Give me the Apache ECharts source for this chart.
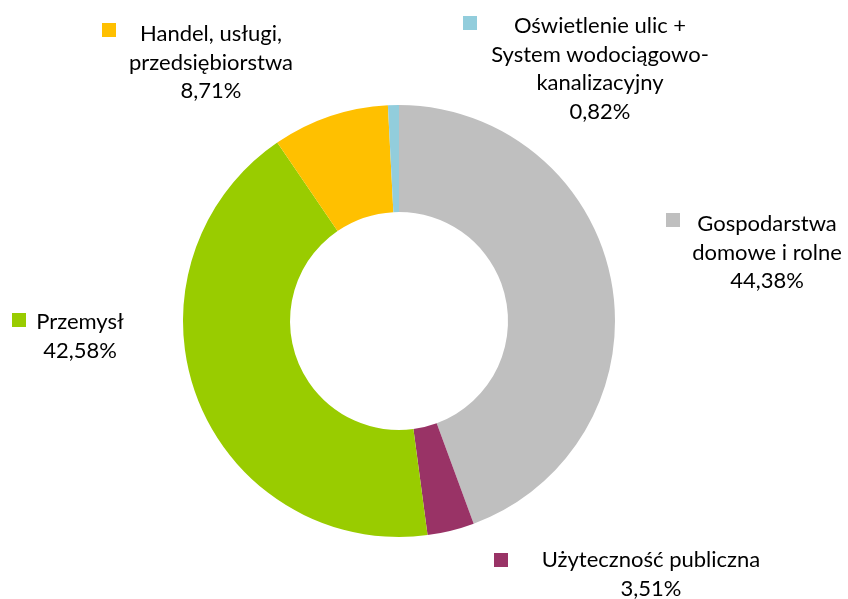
<!DOCTYPE html>
<html>
<head>
<meta charset="utf-8">
<script src="https://cdn.jsdelivr.net/npm/echarts@6/dist/echarts.min.js"></script>
<style>
  html, body { margin: 0; padding: 0; background: #fff; }
  #chart { width: 848px; height: 599px; }
</style>
</head>
<body>
<div id="chart"></div>
<script>
// dane wykresu (kolejność zgodnie z ruchem wskazówek zegara od góry)
const categories = [
  'Gospodarstwa\ndomowe i rolne',
  'Użyteczność publiczna',
  'Przemysł',
  'Handel, usługi,\nprzedsiębiorstwa',
  'Oświetlenie ulic +\nSystem wodociągowo-\nkanalizacyjny'
];
const shares = [44.38, 3.51, 42.58, 8.71, 0.82];
const colors = ['#BFBFBF', '#993366', '#99CC00', '#FFC000', '#92CDDC'];

// położenie etykiet: środek tekstu (x) i górna krawędź bloku (y)
const labelPos = [[767, 210], [651, 546], [80, 308], [211, 20], [600, 12]];
// położenie kwadracików legendy (lewy górny róg)
const keyPos = [[666, 213], [494, 553], [12, 313], [102, 23], [463, 16]];

const fmt = v => v.toFixed(2).replace('.', ',') + '%';

const chart = echarts.init(document.getElementById('chart'));

const pieBase = {
  type: 'pie',
  center: [399, 321],
  radius: [109, 216],
  startAngle: 90,
  clockwise: true,
  avoidLabelOverlap: false,
  animation: false,
  labelLine: { show: false },
  emphasis: { disabled: true }
};

chart.setOption({
  backgroundColor: '#fff',
  textStyle: { fontFamily: 'Lato' },
  series: [
    Object.assign({}, pieBase, {
      name: 'udzial',
      data: categories.map((c, i) => ({
        name: c,
        value: shares[i],
        itemStyle: { color: colors[i] }
      })),
      label: {
        show: true,
        position: 'outside',
        fontFamily: 'Lato',
        fontSize: 22,
        lineHeight: 28.5,
        color: '#000',
        formatter: p => p.name + '\n' + fmt(p.value)
      },
      labelLayout: p => ({
        x: labelPos[p.dataIndex][0],
        y: labelPos[p.dataIndex][1],
        align: 'center',
        verticalAlign: 'top'
      })
    }),
    // druga seria tylko dla kwadracików legendy przy etykietach
    Object.assign({}, pieBase, {
      name: 'klucze',
      silent: true,
      z: 3,
      data: categories.map((c, i) => ({
        name: c,
        value: shares[i],
        itemStyle: { color: 'rgba(0,0,0,0)' },
        label: { backgroundColor: colors[i] }
      })),
      label: {
        show: true,
        position: 'outside',
        formatter: '',
        width: 14,
        height: 14
      },
      labelLayout: p => ({
        x: keyPos[p.dataIndex][0],
        y: keyPos[p.dataIndex][1],
        align: 'left',
        verticalAlign: 'top'
      })
    })
  ]
});
</script>
</body>
</html>
